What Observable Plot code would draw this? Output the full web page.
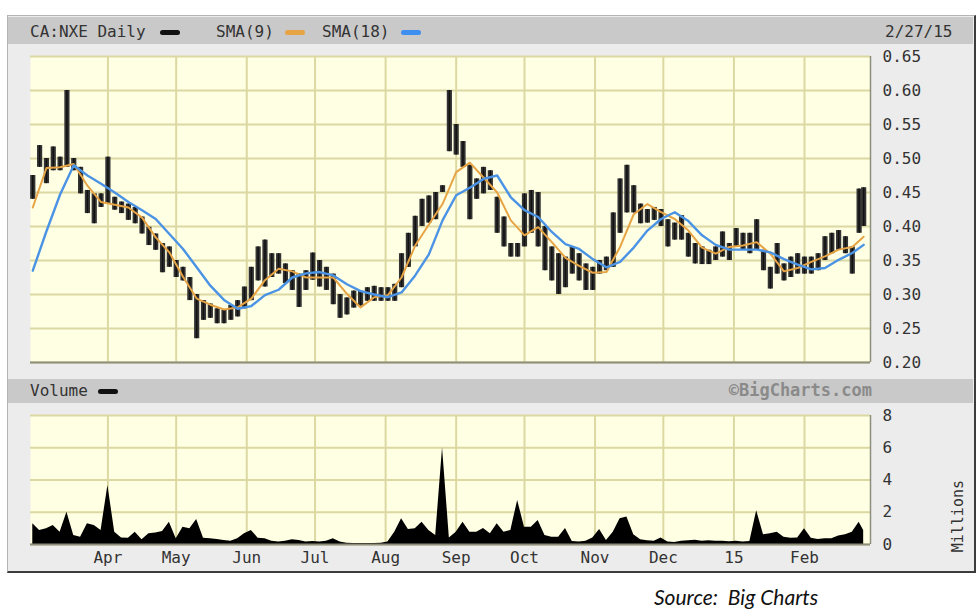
<!DOCTYPE html>
<html>
<head>
<meta charset="utf-8">
<script src="https://cdn.jsdelivr.net/npm/d3@7"></script>
<script src="https://cdn.jsdelivr.net/npm/@observablehq/plot@0.6"></script>
<style>
  body { margin: 0; background: #fff; }
  #wrap { position: relative; width: 980px; height: 613px; overflow: hidden; }
  .abs { position: absolute; }
  #frame { left: 7px; top: 15px; width: 966px; height: 555px; background: #ececec;
           border-left: 1px solid #b4b4b4; border-top: 1px solid #b4b4b4;
           border-right: 2px solid #3c3c3c; border-bottom: 2px solid #3c3c3c; }
  .bar { left: 8px; width: 965px; background: #c9c9c9; }
  .mono { font-family: "DejaVu Sans Mono", monospace; font-size: 16px; color: #333; line-height: 20px; white-space: pre; }
  .pill { height: 5px; border-radius: 3px; width: 20px; }
  #cap { left: 654px; top: 584px; font-family: Lato, "Open Sans", sans-serif; font-style: italic;
         font-size: 21px; color: #111; white-space: pre; }
</style>
</head>
<body>
<div id="wrap">
  <div id="frame" class="abs"></div>
  <div class="abs bar" style="top:17px;height:27px"></div>
  <div class="abs bar" style="top:379px;height:24px"></div>
  <div id="price" class="abs" style="left:0;top:44px"></div>
  <div id="volume" class="abs" style="left:0;top:405px"></div>
  <div id="cap" class="abs"></div>
</div>
<script>
// ---- data ----
const symbolLabel = "CA:NXE Daily";
const sma9Label = "SMA(9)";
const sma18Label = "SMA(18)";
const dateLabel = "2/27/15";
const volumeLabel = "Volume";
const creditLabel = "\u00a9BigCharts.com";
const unitLabel = "Millions";
const caption = "Source:  Big Charts";

const dates = [
"2014-02-27","2014-03-02","2014-03-05","2014-03-08","2014-03-11","2014-03-14","2014-03-17","2014-03-20","2014-03-23","2014-03-26",
"2014-03-29","2014-04-01","2014-04-04","2014-04-07","2014-04-10","2014-04-13","2014-04-16","2014-04-19","2014-04-22","2014-04-25",
"2014-04-28","2014-05-01","2014-05-04","2014-05-07","2014-05-10","2014-05-13","2014-05-16","2014-05-19","2014-05-22","2014-05-25",
"2014-05-28","2014-05-31","2014-06-03","2014-06-06","2014-06-09","2014-06-12","2014-06-15","2014-06-18","2014-06-21","2014-06-24",
"2014-06-27","2014-06-30","2014-07-03","2014-07-06","2014-07-09","2014-07-12","2014-07-15","2014-07-18","2014-07-21","2014-07-24",
"2014-07-27","2014-07-30","2014-08-02","2014-08-05","2014-08-08","2014-08-11","2014-08-14","2014-08-17","2014-08-20","2014-08-23",
"2014-08-26","2014-08-29","2014-09-01","2014-09-04","2014-09-07","2014-09-10","2014-09-13","2014-09-16","2014-09-19","2014-09-22",
"2014-09-25","2014-09-28","2014-10-01","2014-10-04","2014-10-07","2014-10-10","2014-10-13","2014-10-16","2014-10-19","2014-10-22",
"2014-10-25","2014-10-28","2014-10-31","2014-11-03","2014-11-06","2014-11-09","2014-11-12","2014-11-15","2014-11-18","2014-11-21",
"2014-11-24","2014-11-27","2014-11-30","2014-12-03","2014-12-06","2014-12-09","2014-12-12","2014-12-15","2014-12-18","2014-12-21",
"2014-12-24","2014-12-27","2014-12-30","2015-01-02","2015-01-05","2015-01-08","2015-01-11","2015-01-14","2015-01-17","2015-01-20",
"2015-01-23","2015-01-26","2015-01-29","2015-02-01","2015-02-04","2015-02-07","2015-02-10","2015-02-13","2015-02-16","2015-02-19",
"2015-02-22","2015-02-25","2015-02-27"];

const highs = [
0.475,0.519,0.500,0.517,0.502,0.600,0.500,0.487,0.453,0.448,
0.448,0.502,0.443,0.436,0.433,0.428,0.414,0.399,0.389,0.375,
0.370,0.350,0.340,0.325,0.300,0.291,0.286,0.279,0.277,0.284,
0.291,0.311,0.340,0.370,0.380,0.360,0.360,0.345,0.335,0.330,
0.335,0.361,0.350,0.340,0.330,0.300,0.295,0.305,0.305,0.310,
0.312,0.310,0.310,0.315,0.360,0.390,0.415,0.440,0.445,0.450,
0.460,0.600,0.550,0.525,0.490,0.470,0.487,0.482,0.443,0.414,
0.375,0.375,0.448,0.453,0.450,0.400,0.370,0.360,0.355,0.370,
0.360,0.345,0.340,0.350,0.355,0.420,0.470,0.490,0.460,0.433,
0.425,0.428,0.425,0.410,0.405,0.416,0.390,0.375,0.370,0.365,
0.370,0.392,0.375,0.397,0.390,0.390,0.410,0.365,0.340,0.375,
0.345,0.355,0.360,0.355,0.355,0.360,0.385,0.390,0.394,0.385,
0.370,0.455,0.457];

const lows = [
0.440,0.487,0.463,0.482,0.482,0.487,0.482,0.448,0.419,0.404,
0.428,0.433,0.424,0.419,0.409,0.404,0.389,0.372,0.365,0.332,
0.340,0.325,0.320,0.291,0.235,0.262,0.265,0.257,0.257,0.262,
0.267,0.279,0.291,0.320,0.311,0.325,0.330,0.316,0.306,0.281,
0.306,0.321,0.311,0.306,0.285,0.265,0.270,0.280,0.283,0.290,
0.290,0.290,0.290,0.290,0.310,0.340,0.370,0.400,0.405,0.410,
0.450,0.510,0.505,0.487,0.410,0.440,0.448,0.453,0.390,0.370,
0.355,0.355,0.370,0.390,0.370,0.335,0.320,0.300,0.310,0.330,
0.320,0.306,0.306,0.330,0.335,0.340,0.390,0.420,0.420,0.404,
0.405,0.409,0.400,0.370,0.380,0.380,0.355,0.345,0.344,0.344,
0.350,0.355,0.350,0.370,0.365,0.360,0.365,0.335,0.308,0.330,
0.320,0.325,0.330,0.330,0.330,0.335,0.350,0.360,0.365,0.360,
0.330,0.390,0.400];

// moving averages, read at every other date
const sma9 = [
0.428,0.486,0.487,0.492,0.460,0.436,0.432,0.428,0.413,0.384,
0.362,0.326,0.294,0.285,0.278,0.281,0.294,0.321,0.338,0.334,
0.325,0.325,0.325,0.301,0.281,0.296,0.299,0.325,0.372,0.403,
0.433,0.480,0.494,0.472,0.450,0.409,0.387,0.399,0.377,0.354,
0.342,0.332,0.333,0.370,0.418,0.433,0.421,0.411,0.394,0.369,
0.360,0.370,0.372,0.377,0.360,0.334,0.339,0.348,0.356,0.366,
0.370,0.385];

const sma18 = [
0.335,0.393,0.447,0.490,0.475,0.463,0.450,0.436,0.424,0.411,
0.389,0.367,0.340,0.313,0.292,0.279,0.283,0.299,0.307,0.325,
0.331,0.333,0.328,0.315,0.305,0.300,0.296,0.303,0.328,0.359,
0.409,0.446,0.457,0.470,0.475,0.443,0.424,0.414,0.392,0.374,
0.367,0.352,0.340,0.348,0.369,0.394,0.411,0.421,0.408,0.387,
0.373,0.366,0.366,0.366,0.362,0.352,0.344,0.337,0.339,0.351,
0.361,0.373];

// volume in millions
const volume = [
1.28,0.87,0.97,1.18,0.76,2.00,0.56,0.45,1.28,1.18,
0.87,3.66,0.76,0.41,0.39,0.76,0.29,0.66,0.72,0.80,
1.38,0.35,1.07,0.97,1.55,0.39,0.35,0.31,0.25,0.20,
0.35,0.66,0.87,0.39,0.35,0.20,0.15,0.20,0.29,0.25,
0.15,0.19,0.15,0.20,0.35,0.15,0.08,0.06,0.06,0.06,
0.06,0.08,0.15,0.76,1.60,0.93,0.97,1.38,0.87,0.56,
6.00,0.40,0.76,1.38,0.76,0.76,1.00,0.66,1.28,0.76,
0.87,2.73,1.07,1.07,1.49,0.56,0.45,0.45,1.00,0.19,
0.15,0.20,0.41,0.93,0.25,0.76,1.60,1.70,0.60,0.29,
0.23,0.20,0.41,0.15,0.12,0.20,0.23,0.27,0.20,0.23,
0.20,0.20,0.17,0.20,0.15,0.19,2.10,0.60,0.66,0.76,
0.45,0.39,0.41,0.97,0.39,0.31,0.35,0.35,0.52,0.60,
0.76,1.38,0.87];

const priceTicks = [0.20,0.25,0.30,0.35,0.40,0.45,0.50,0.55,0.60,0.65];
const volumeTicks = [0,2,4,6,8];
const monthTicks = ["2014-04-01","2014-05-01","2014-06-01","2014-07-01","2014-08-01","2014-09-01",
                    "2014-10-01","2014-11-01","2014-12-01","2015-01-01","2015-02-01"];
const monthLabels = ["Apr","May","Jun","Jul","Aug","Sep","Oct","Nov","Dec","15","Feb"];
const xDomain = ["2014-02-26","2015-03-02"];

// ---- build tables ----
const parse = s => new Date(s);
const bars = dates.map((d, i) => ({date: parse(d), hi: highs[i], lo: lows[i], vol: volume[i]}));
const smaDates = dates.filter((d, i) => i % 2 === 0);
const smaRows = smaDates.map((d, i) => ({date: parse(d), s9: sma9[i], s18: sma18[i]}));
const mTicks = monthTicks.map(parse);
const dom = xDomain.map(parse);

const grid = "#dcd8a2";
const edge = "#8e8e7c";
const font = {fontFamily: "DejaVu Sans Mono, monospace", fontSize: "16px", color: "#333", background: "transparent", overflow: "visible"};

const price = Plot.plot({
  width: 980, height: 330,
  marginLeft: 30, marginRight: 110, marginTop: 12, marginBottom: 12,
  style: font,
  x: {type: "utc", domain: dom, axis: null},
  y: {domain: [0.20, 0.65]},
  marks: [
    Plot.frame({fill: "#ffffe4", stroke: null}),
    Plot.ruleY(priceTicks, {stroke: grid, strokeWidth: 2}),
    Plot.ruleX(mTicks, {stroke: grid, strokeWidth: 2}),
    Plot.ruleX(bars, {x: "date", y1: "lo", y2: "hi", stroke: "#333", strokeWidth: 5.2}),
    Plot.ruleX(bars, {x: "date", y1: "lo", y2: "hi", stroke: "#111", strokeWidth: 1.5}),
    Plot.line(smaRows, {x: "date", y: "s9", stroke: "#e6a445", strokeWidth: 2}),
    Plot.line(smaRows, {x: "date", y: "s18", stroke: "#4b93e4", strokeWidth: 2.4}),
    Plot.ruleY([0.20], {stroke: edge, strokeWidth: 2}),
    Plot.ruleX([dom[1]], {stroke: edge, strokeWidth: 1.5}),
    Plot.axisY(priceTicks, {anchor: "right", tickSize: 0, tickPadding: 12, tickFormat: d3.format(".2f"), label: null})
  ]
});
document.getElementById("price").appendChild(price);

const vol = Plot.plot({
  width: 980, height: 170,
  marginLeft: 30, marginRight: 110, marginTop: 10, marginBottom: 31,
  style: font,
  x: {type: "utc", domain: dom},
  y: {domain: [0, 8]},
  marks: [
    Plot.frame({fill: "#ffffe4", stroke: null}),
    Plot.ruleY(volumeTicks, {stroke: grid, strokeWidth: 2}),
    Plot.ruleX(mTicks, {stroke: grid, strokeWidth: 2}),
    Plot.areaY(bars, {x: "date", y: "vol", fill: "#000", curve: "linear"}),
    Plot.ruleY([0], {stroke: edge, strokeWidth: 2}),
    Plot.ruleX([dom[1]], {stroke: edge, strokeWidth: 1.5}),
    Plot.axisY(volumeTicks, {anchor: "right", tickSize: 0, tickPadding: 12, label: null}),
    Plot.axisX(mTicks, {anchor: "bottom", tickSize: 0, tickPadding: 7, label: null,
      tickFormat: d => monthLabels[mTicks.findIndex(t => +t === +d)]}),
    Plot.text([unitLabel], {frameAnchor: "right", dx: 88, rotate: -90, fontSize: 15, fill: "#333"})
  ]
});
document.getElementById("volume").appendChild(vol);

// ---- header texts and legend swatches ----
const wrap = document.getElementById("wrap");
function addText(txt, left, top, extra) {
  const s = document.createElement("div");
  s.className = "abs mono";
  s.textContent = txt;
  s.style.left = left + "px"; s.style.top = top + "px";
  if (extra) Object.assign(s.style, extra);
  wrap.appendChild(s);
  return s;
}
function addPill(color, left, top) {
  const p = document.createElement("div");
  p.className = "abs pill";
  p.style.background = color; p.style.left = left + "px"; p.style.top = top + "px";
  wrap.appendChild(p);
}
addText(symbolLabel, 30, 22);
addPill("#111", 160, 30);
addText(sma9Label, 216, 22);
addPill("#e6a445", 285, 30);
addText(sma18Label, 322, 22);
addPill("#3f8ff0", 401, 30);
addText(dateLabel, 885, 22);
addText(volumeLabel, 30, 381);
addPill("#111", 98, 389);
addText(creditLabel, 0, 380, {left: "auto", right: "108px", fontWeight: "bold", fontSize: "17px", color: "#8a8a8a"});
document.getElementById("cap").textContent = caption;
</script>
</body>
</html>
